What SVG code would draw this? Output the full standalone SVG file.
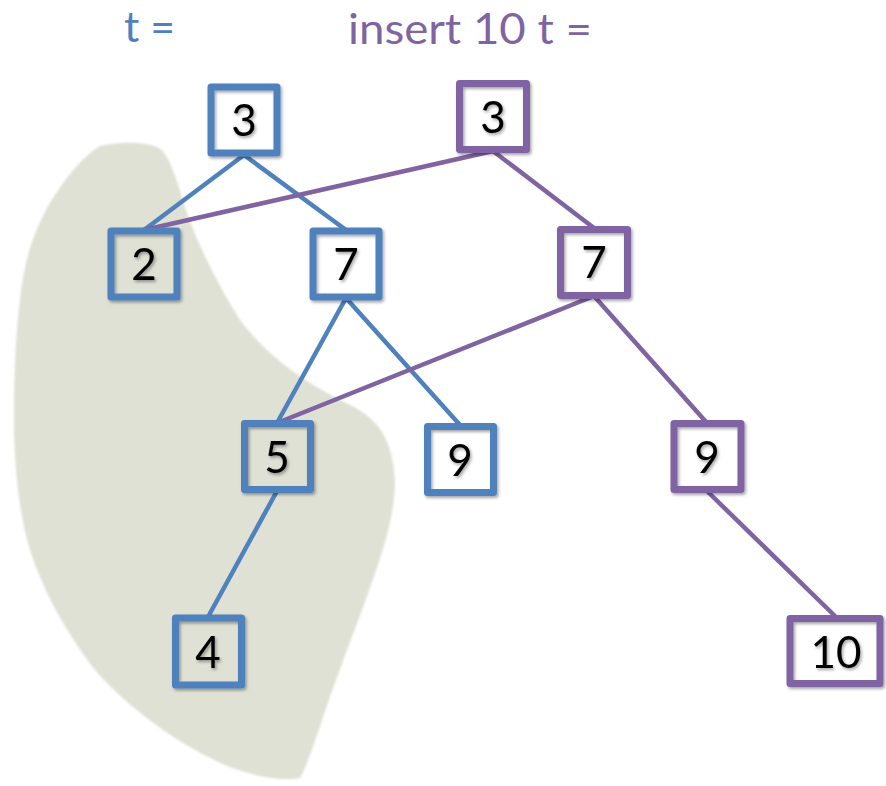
<svg xmlns="http://www.w3.org/2000/svg" width="886" height="786" viewBox="0 0 886 786">
<defs>
<style>
.blue{stroke:#4F81BD}
.purple{stroke:#8064A2}
.box{fill:none;stroke-width:7;stroke-linejoin:round}
.edge{stroke-width:4.5;fill:none}
.num{font-family:Lato,"Liberation Sans",sans-serif;font-size:44px;fill:#000;text-anchor:middle}
.title{font-family:Lato,"Liberation Sans",sans-serif;font-size:42px}
</style>
<filter id="sh" x="-20%" y="-20%" width="140%" height="140%">
<feDropShadow dx="1.5" dy="2" stdDeviation="1.5" flood-color="#000" flood-opacity="0.35"/>
</filter>
<filter id="soft"><feGaussianBlur stdDeviation="1.2"/></filter>
</defs>
<rect width="886" height="786" fill="#fff"/>
<path id="blob" filter="url(#soft)" fill="#DEE1D4" d="M100,146 C120,141 150,141 162,150 C172,162 178,185 186,210 C196,240 215,280 240,320 C270,360 310,385 350,405 C380,420 392,440 395,480 C395,520 380,560 362,610 C347,650 332,690 322,720 C312,750 305,770 300,778 C280,782 250,775 225,765 C180,745 130,710 95,670 C65,630 45,595 30,550 C18,510 14,460 14,420 C14,370 16,330 20,300 C24,260 35,225 55,195 C70,172 85,155 100,146 Z"/>
<text class="title" x="124" y="42" fill="#4F81BD" textLength="51" lengthAdjust="spacingAndGlyphs">t =</text>
<text class="title" x="348" y="44" fill="#8064A2" textLength="244" lengthAdjust="spacingAndGlyphs">insert 10 t =</text>
<g id="connectors">
<line class="edge blue" x1="244" y1="155" x2="144" y2="230"/>
<line class="edge blue" x1="244" y1="155" x2="346" y2="230"/>
<line class="edge blue" x1="346" y1="298" x2="277" y2="423"/>
<line class="edge blue" x1="346" y1="298" x2="460" y2="425"/>
<line class="edge blue" x1="277" y1="491" x2="208" y2="617"/>
<line class="edge purple" x1="493" y1="151" x2="144" y2="230"/>
<line class="edge purple" x1="493" y1="151" x2="594" y2="228"/>
<line class="edge purple" x1="594" y1="296" x2="277" y2="423"/>
<line class="edge purple" x1="594" y1="296" x2="707" y2="423"/>
<line class="edge purple" x1="707" y1="491" x2="837" y2="618"/>
</g>
<g id="b3" filter="url(#sh)"><rect class="box blue" x="211" y="87" width="66" height="66"/><text class="num" x="244" y="136">3</text></g>
<g id="p3" filter="url(#sh)"><rect class="box purple" x="459.5" y="83.5" width="67" height="66"/><text class="num" x="493" y="133">3</text></g>
<g id="b2" filter="url(#sh)"><rect class="box blue" x="111" y="231" width="66" height="66"/><text class="num" x="144" y="280">2</text></g>
<g id="b7" filter="url(#sh)"><rect class="box blue" x="313" y="231" width="66" height="66"/><text class="num" x="346" y="280">7</text></g>
<g id="p7" filter="url(#sh)"><rect class="box purple" x="560.5" y="229.5" width="67" height="66"/><text class="num" x="594" y="278">7</text></g>
<g id="b5" filter="url(#sh)"><rect class="box blue" x="244.5" y="423.5" width="66" height="66"/><text class="num" x="277" y="473">5</text></g>
<g id="b9" filter="url(#sh)"><rect class="box blue" x="427.5" y="426.5" width="66" height="66"/><text class="num" x="460" y="476">9</text></g>
<g id="p9" filter="url(#sh)"><rect class="box purple" x="674" y="423.5" width="67" height="66"/><text class="num" x="707" y="473">9</text></g>
<g id="b4" filter="url(#sh)"><rect class="box blue" x="175.5" y="618" width="66" height="67"/><text class="num" x="208" y="668">4</text></g>
<g id="p10" filter="url(#sh)"><rect class="box purple" x="790" y="618.5" width="90" height="65"/><text class="num" x="836" y="668">10</text></g>
</svg>
